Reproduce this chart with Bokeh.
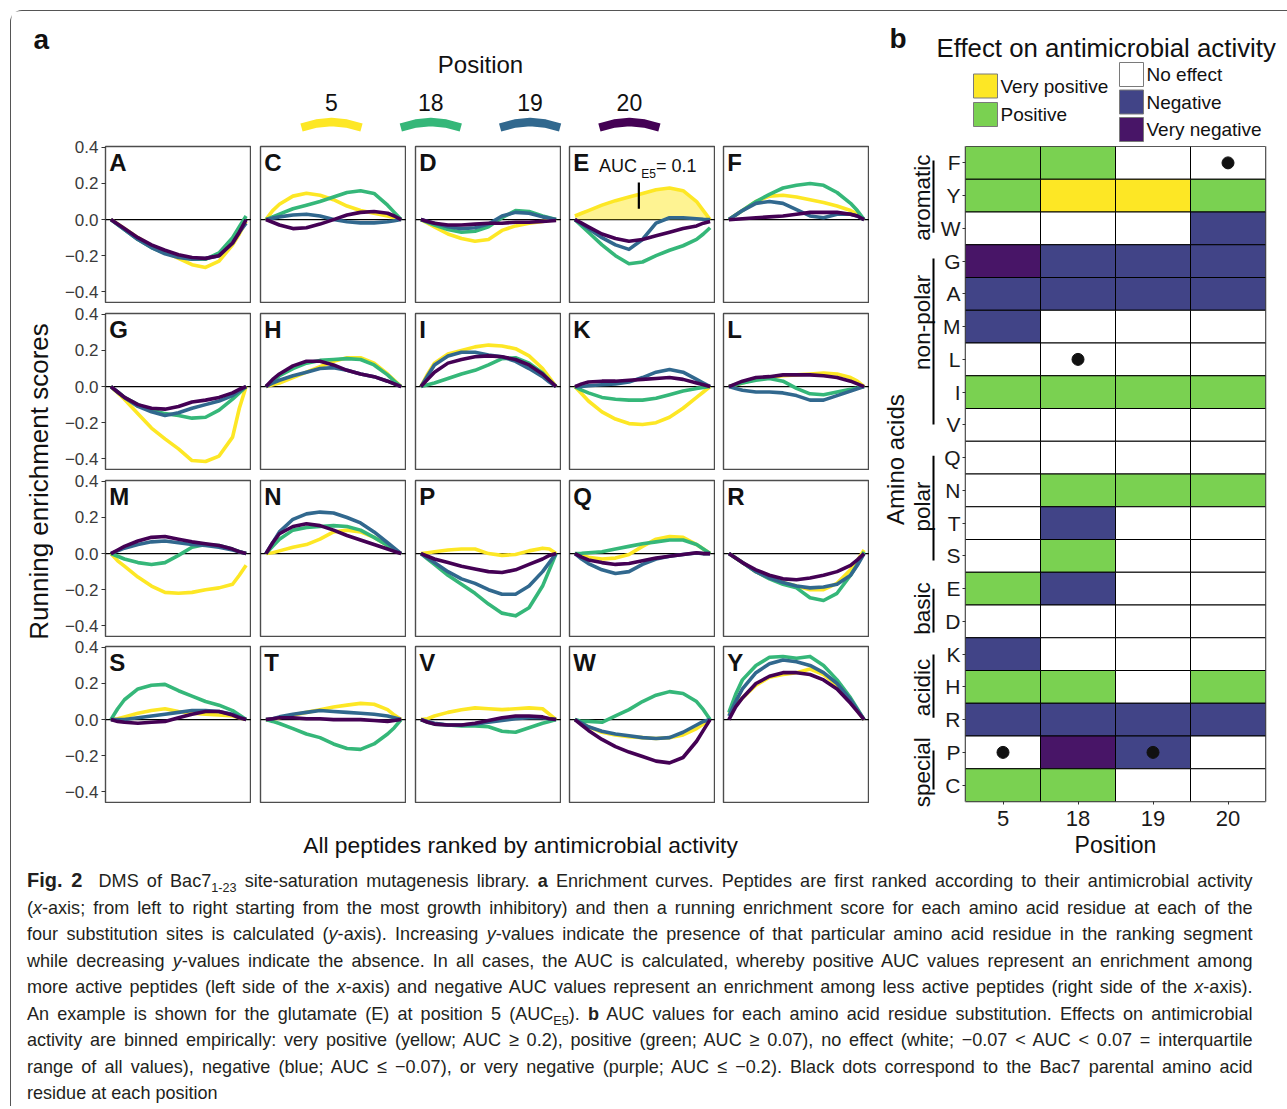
import math
from bokeh.plotting import figure
from bokeh.layouts import row, column
from bokeh.models import Range1d, Label, FixedTicker, Div, Span, ColumnDataSource
from bokeh.embed import file_html
from bokeh.resources import INLINE
from bokeh.core.properties import value

# ------------------------------------------------------------------ data
XS = [0, 0.05, 0.1, 0.2, 0.3, 0.4, 0.5, 0.6, 0.7, 0.8, 0.9, 0.95, 1.0]
POSITIONS = ["5", "18", "19", "20"]
PANEL_LETTERS = ["A", "C", "D", "E", "F",
                 "G", "H", "I", "K", "L",
                 "M", "N", "P", "Q", "R",
                 "S", "T", "V", "W", "Y"]

A5 = [0, -0.025, -0.05, -0.10, -0.145, -0.18, -0.215, -0.25, -0.265, -0.23, -0.14, -0.08, -0.01]
A18 = [0, -0.028, -0.055, -0.11, -0.155, -0.185, -0.205, -0.22, -0.22, -0.185, -0.10, -0.04, 0.02]
A19 = [0, -0.028, -0.055, -0.11, -0.155, -0.19, -0.21, -0.22, -0.215, -0.20, -0.13, -0.07, -0.02]
A20 = [0, -0.025, -0.05, -0.10, -0.14, -0.17, -0.195, -0.21, -0.215, -0.20, -0.13, -0.07, 0.0]

C5 = [0, 0.05, 0.085, 0.13, 0.146, 0.135, 0.11, 0.075, 0.05, 0.035, 0.02, 0.01, 0]
C18 = [0, 0.015, 0.03, 0.06, 0.08, 0.10, 0.125, 0.15, 0.16, 0.145, 0.08, 0.04, 0]
C19 = [0, 0.008, 0.015, 0.025, 0.03, 0.02, 0.0, -0.012, -0.018, -0.018, -0.012, -0.006, 0]
C20 = [0, -0.015, -0.03, -0.05, -0.045, -0.025, 0.0, 0.025, 0.04, 0.045, 0.035, 0.02, 0]

D5 = [0, -0.02, -0.04, -0.08, -0.105, -0.12, -0.11, -0.06, -0.035, -0.02, -0.01, -0.005, 0]
D18 = [0, -0.015, -0.03, -0.055, -0.07, -0.065, -0.04, 0.01, 0.05, 0.045, 0.02, 0.01, 0]
D19 = [0, -0.01, -0.02, -0.04, -0.05, -0.045, -0.025, 0.02, 0.04, 0.035, 0.015, 0.008, 0]
D20 = [0, -0.01, -0.02, -0.03, -0.03, -0.025, -0.02, -0.02, -0.015, -0.015, -0.01, -0.008, -0.005]

E5 = [0.02, 0.035, 0.05, 0.08, 0.105, 0.125, 0.145, 0.165, 0.175, 0.16, 0.10, 0.05, 0.0]
E18 = [0, -0.035, -0.07, -0.14, -0.20, -0.245, -0.235, -0.20, -0.17, -0.145, -0.11, -0.08, -0.045]
E19 = [0, -0.025, -0.05, -0.10, -0.14, -0.165, -0.11, -0.02, 0.01, 0.01, 0.005, 0.002, 0]
E20 = [0, -0.02, -0.04, -0.08, -0.105, -0.12, -0.11, -0.09, -0.07, -0.05, -0.035, -0.02, -0.01]

F5 = [0, 0.025, 0.05, 0.10, 0.13, 0.135, 0.125, 0.11, 0.095, 0.075, 0.05, 0.03, 0]
F18 = [0, 0.025, 0.05, 0.10, 0.14, 0.175, 0.19, 0.20, 0.19, 0.15, 0.09, 0.05, 0]
F19 = [0, 0.025, 0.05, 0.09, 0.10, 0.09, 0.055, 0.02, 0.01, 0.03, 0.03, 0.02, 0]
F20 = [0, 0.002, 0.005, 0.01, 0.015, 0.02, 0.03, 0.04, 0.04, 0.04, 0.03, 0.02, 0]

G5 = [0, -0.035, -0.07, -0.15, -0.23, -0.29, -0.345, -0.41, -0.415, -0.385, -0.28, -0.12, 0]
G18 = [0, -0.03, -0.06, -0.10, -0.13, -0.15, -0.16, -0.175, -0.17, -0.13, -0.07, -0.035, 0]
G19 = [0, -0.03, -0.06, -0.11, -0.14, -0.16, -0.145, -0.12, -0.10, -0.08, -0.05, -0.025, 0]
G20 = [0, -0.03, -0.06, -0.10, -0.12, -0.125, -0.11, -0.085, -0.075, -0.06, -0.035, -0.015, 0]

H5 = [0, 0.01, 0.02, 0.05, 0.08, 0.11, 0.14, 0.16, 0.16, 0.13, 0.07, 0.035, 0]
H18 = [0, 0.03, 0.06, 0.10, 0.13, 0.145, 0.15, 0.155, 0.15, 0.12, 0.065, 0.03, 0]
H19 = [0, 0.02, 0.035, 0.06, 0.08, 0.10, 0.105, 0.09, 0.07, 0.055, 0.03, 0.015, 0]
H20 = [0, 0.04, 0.07, 0.115, 0.14, 0.14, 0.12, 0.09, 0.07, 0.055, 0.03, 0.015, 0]

I5 = [0, 0.07, 0.13, 0.18, 0.20, 0.22, 0.23, 0.225, 0.21, 0.17, 0.10, 0.05, 0]
I18 = [0, 0.01, 0.02, 0.045, 0.07, 0.09, 0.12, 0.155, 0.16, 0.13, 0.075, 0.035, 0]
I19 = [0, 0.06, 0.12, 0.17, 0.19, 0.19, 0.175, 0.165, 0.14, 0.10, 0.055, 0.025, 0]
I20 = [0, 0.04, 0.08, 0.13, 0.15, 0.165, 0.17, 0.165, 0.15, 0.12, 0.07, 0.035, 0]

K5 = [0, -0.04, -0.08, -0.14, -0.18, -0.205, -0.21, -0.20, -0.17, -0.12, -0.06, -0.03, 0]
K18 = [0, -0.02, -0.035, -0.06, -0.07, -0.075, -0.075, -0.065, -0.045, -0.025, -0.01, -0.005, 0]
K19 = [0, 0.0, 0.005, 0.01, 0.015, 0.025, 0.05, 0.08, 0.095, 0.08, 0.04, 0.02, 0]
K20 = [0, 0.015, 0.025, 0.03, 0.03, 0.035, 0.04, 0.045, 0.05, 0.04, 0.02, 0.01, 0]

L5 = [0, 0.01, 0.02, 0.04, 0.05, 0.06, 0.065, 0.07, 0.075, 0.07, 0.05, 0.03, 0]
L18 = [0, 0.01, 0.02, 0.035, 0.045, 0.03, -0.01, -0.04, -0.045, -0.03, -0.015, -0.008, 0]
L19 = [0, -0.01, -0.02, -0.03, -0.03, -0.035, -0.05, -0.075, -0.075, -0.05, -0.025, -0.012, 0]
L20 = [0, 0.015, 0.03, 0.05, 0.055, 0.065, 0.065, 0.065, 0.06, 0.05, 0.03, 0.015, 0]

M5 = [0, -0.04, -0.07, -0.13, -0.18, -0.215, -0.22, -0.215, -0.20, -0.19, -0.17, -0.12, -0.065]
M18 = [0, -0.015, -0.03, -0.05, -0.06, -0.05, -0.01, 0.035, 0.05, 0.045, 0.025, 0.01, 0]
M19 = [0, 0.015, 0.03, 0.05, 0.065, 0.07, 0.06, 0.05, 0.045, 0.035, 0.02, 0.01, 0]
M20 = [0, 0.02, 0.04, 0.07, 0.09, 0.095, 0.08, 0.065, 0.055, 0.045, 0.025, 0.01, 0]

N5 = [0, 0.005, 0.015, 0.035, 0.05, 0.08, 0.12, 0.13, 0.12, 0.09, 0.045, 0.02, 0]
N18 = [0, 0.04, 0.08, 0.13, 0.145, 0.15, 0.155, 0.15, 0.13, 0.09, 0.045, 0.02, 0]
N19 = [0, 0.06, 0.12, 0.19, 0.22, 0.23, 0.225, 0.20, 0.17, 0.12, 0.06, 0.03, 0]
N20 = [0, 0.06, 0.11, 0.15, 0.165, 0.155, 0.13, 0.10, 0.075, 0.05, 0.025, 0.012, 0]

P5 = [0, 0.005, 0.01, 0.02, 0.025, 0.025, 0.0, -0.01, -0.005, 0.015, 0.03, 0.025, 0]
P18 = [0, -0.03, -0.06, -0.12, -0.17, -0.22, -0.28, -0.33, -0.345, -0.30, -0.18, -0.09, 0]
P19 = [0, -0.025, -0.05, -0.10, -0.14, -0.165, -0.20, -0.225, -0.225, -0.18, -0.10, -0.05, 0]
P20 = [0, -0.015, -0.03, -0.05, -0.07, -0.085, -0.10, -0.105, -0.09, -0.06, -0.03, -0.01, 0]

Q5 = [0, -0.01, -0.02, -0.03, -0.025, -0.005, 0.04, 0.08, 0.095, 0.09, 0.05, 0.025, 0]
Q18 = [0, 0.002, 0.005, 0.01, 0.025, 0.04, 0.055, 0.065, 0.075, 0.075, 0.05, 0.025, 0]
Q19 = [0, -0.03, -0.055, -0.09, -0.11, -0.10, -0.06, -0.03, -0.015, -0.005, 0.003, 0.0, 0]
Q20 = [0, -0.02, -0.035, -0.05, -0.06, -0.055, -0.04, -0.025, -0.015, -0.005, 0.005, 0.0, 0]

R5 = [0, -0.025, -0.05, -0.10, -0.135, -0.16, -0.18, -0.20, -0.20, -0.165, -0.09, -0.04, 0.02]
R18 = [0, -0.025, -0.05, -0.10, -0.14, -0.17, -0.19, -0.245, -0.26, -0.22, -0.12, -0.06, 0.01]
R19 = [0, -0.025, -0.05, -0.10, -0.135, -0.16, -0.18, -0.19, -0.185, -0.17, -0.12, -0.065, 0]
R20 = [0, -0.025, -0.05, -0.09, -0.12, -0.14, -0.145, -0.135, -0.12, -0.10, -0.065, -0.035, 0]

S5 = [0, 0.005, 0.015, 0.035, 0.05, 0.06, 0.045, 0.035, 0.03, 0.025, 0.02, 0.01, 0]
S18 = [0, 0.06, 0.11, 0.17, 0.19, 0.195, 0.16, 0.13, 0.10, 0.08, 0.05, 0.025, 0]
S19 = [0, 0.0, 0.0, 0.01, 0.02, 0.03, 0.04, 0.05, 0.05, 0.045, 0.03, 0.015, 0]
S20 = [0, -0.01, -0.015, -0.02, -0.015, -0.01, 0.01, 0.03, 0.045, 0.045, 0.025, 0.01, 0]

T5 = [0, 0.0, 0.01, 0.025, 0.04, 0.055, 0.07, 0.08, 0.09, 0.085, 0.055, 0.025, 0]
T18 = [0, -0.01, -0.022, -0.05, -0.08, -0.10, -0.135, -0.16, -0.165, -0.135, -0.08, -0.045, 0]
T19 = [0, 0.005, 0.015, 0.03, 0.04, 0.05, 0.045, 0.04, 0.035, 0.03, 0.02, 0.01, 0]
T20 = [0, 0.005, 0.01, 0.01, 0.005, 0.005, 0.0, 0.0, 0.0, -0.005, -0.01, -0.005, 0]

V5 = [0, 0.005, 0.02, 0.04, 0.055, 0.065, 0.06, 0.055, 0.06, 0.065, 0.06, 0.03, 0]
V18 = [0, -0.015, -0.025, -0.03, -0.035, -0.035, -0.04, -0.065, -0.07, -0.045, -0.02, -0.01, 0]
V19 = [0, -0.01, -0.02, -0.03, -0.03, -0.025, -0.015, -0.005, 0.005, 0.01, 0.01, 0.005, 0]
V20 = [0, -0.015, -0.025, -0.03, -0.03, -0.02, -0.005, 0.01, 0.02, 0.02, 0.015, 0.005, 0]

W5 = [0, -0.02, -0.04, -0.07, -0.085, -0.095, -0.10, -0.105, -0.10, -0.085, -0.05, -0.025, 0]
W18 = [0, -0.01, -0.01, -0.015, 0.02, 0.055, 0.10, 0.135, 0.155, 0.145, 0.10, 0.055, 0]
W19 = [0, -0.02, -0.04, -0.065, -0.08, -0.09, -0.10, -0.105, -0.10, -0.07, -0.03, -0.01, 0]
W20 = [0, -0.03, -0.06, -0.11, -0.15, -0.18, -0.205, -0.23, -0.24, -0.21, -0.12, -0.06, 0]

Y5 = [0.03, 0.08, 0.12, 0.19, 0.235, 0.25, 0.26, 0.28, 0.25, 0.19, 0.10, 0.05, 0]
Y18 = [0.04, 0.14, 0.22, 0.30, 0.345, 0.35, 0.34, 0.35, 0.30, 0.22, 0.12, 0.06, 0]
Y19 = [0.02, 0.10, 0.17, 0.26, 0.31, 0.33, 0.32, 0.30, 0.26, 0.20, 0.11, 0.055, 0]
Y20 = [0.0, 0.07, 0.12, 0.20, 0.24, 0.26, 0.26, 0.25, 0.22, 0.17, 0.09, 0.045, 0]

CURVES = {
    "A": [A5, A18, A19, A20], "C": [C5, C18, C19, C20], "D": [D5, D18, D19, D20],
    "E": [E5, E18, E19, E20], "F": [F5, F18, F19, F20], "G": [G5, G18, G19, G20],
    "H": [H5, H18, H19, H20], "I": [I5, I18, I19, I20], "K": [K5, K18, K19, K20],
    "L": [L5, L18, L19, L20], "M": [M5, M18, M19, M20], "N": [N5, N18, N19, N20],
    "P": [P5, P18, P19, P20], "Q": [Q5, Q18, Q19, Q20], "R": [R5, R18, R19, R20],
    "S": [S5, S18, S19, S20], "T": [T5, T18, T19, T20], "V": [V5, V18, V19, V20],
    "W": [W5, W18, W19, W20], "Y": [Y5, Y18, Y19, Y20],
}

YTICKS = [-0.4, -0.2, 0.0, 0.2, 0.4]
YTICK_LABELS = ["\u22120.4", "\u22120.2", "0.0", "0.2", "0.4"]
AUC_E5 = 0.1

AMINO_ACIDS = ["F", "Y", "W", "G", "A", "M", "L", "I", "V", "Q",
               "N", "T", "S", "E", "D", "K", "H", "R", "P", "C"]
# effect codes: VP very positive, P positive, 0 no effect, N negative, VN very negative
EFFECT_5 = ["P", "P", "0", "VN", "N", "N", "0", "P", "0", "0",
            "0", "0", "0", "P", "0", "N", "P", "N", "0", "P"]
EFFECT_18 = ["P", "VP", "0", "N", "N", "0", "0", "P", "0", "0",
             "P", "N", "P", "N", "0", "0", "P", "N", "VN", "P"]
EFFECT_19 = ["0", "VP", "0", "N", "N", "0", "0", "P", "0", "0",
             "P", "0", "0", "0", "0", "0", "0", "N", "N", "0"]
EFFECT_20 = ["0", "P", "N", "N", "N", "0", "0", "P", "0", "0",
             "P", "0", "0", "0", "0", "0", "P", "N", "0", "0"]
PARENTAL = ["P", "L", "P", "F"]   # Bac7 residue at positions 5, 18, 19, 20

EFFECT_CODES = ["VP", "P", "0", "N", "VN"]
EFFECT_LEVELS = ["Very positive", "Positive", "No effect", "Negative", "Very negative"]
GROUP_NAMES = ["aromatic", "non-polar", "polar", "basic", "acidic", "special"]

CAPTION_LINES = [
    "<b style=\"font-size:21px\">Fig. 2</b>&nbsp; DMS of Bac7<sub>1-23</sub> site-saturation mutagenesis library. <b>a</b> Enrichment curves. Peptides are first ranked according to their antimicrobial activity",
    "(<i>x</i>-axis; from left to right starting from the most growth inhibitory) and then a running enrichment score for each amino acid residue at each of the",
    "four substitution sites is calculated (<i>y</i>-axis). Increasing <i>y</i>-values indicate the presence of that particular amino acid residue in the ranking segment",
    "while decreasing <i>y</i>-values indicate the absence. In all cases, the AUC is calculated, whereby positive AUC values represent an enrichment among",
    "more active peptides (left side of the <i>x</i>-axis) and negative AUC values represent an enrichment among less active peptides (right side of the <i>x</i>-axis).",
    "An example is shown for the glutamate (E) at position 5 (AUC<sub>E5</sub>). <b>b</b> AUC values for each amino acid residue substitution. Effects on antimicrobial",
    "activity are binned empirically: very positive (yellow; AUC \u2265 0.2), positive (green; AUC \u2265 0.07), no effect (white; \u22120.07 &lt; AUC &lt; 0.07 = interquartile",
    "range of all values), negative (blue; AUC \u2264 \u22120.07), or very negative (purple; AUC \u2264 \u22120.2). Black dots correspond to the Bac7 parental amino acid",
    "residue at each position",
]

# ------------------------------------------------------------------ styles / layout
FONT = "Liberation Sans"
POS_COLORS = ["#FDE725", "#35B779", "#31688E", "#440154"]
EFFECT_COLORS = ["#FDE725", "#7AD151", "#FFFFFF", "#414487", "#481567"]
O = 11                      # page offset of the content (margin + frame border)
FW, FH = 146, 157
COL_LEFT = [52, 9, 9, 8, 8]
ROW_TOP = [10, 10, 10, 9]
HEAD_H = 146 - O - ROW_TOP[0]
XR = (-0.04, 1.04)
YR = (-0.465, 0.405)


def base_fig(**kw):
    return figure(tools="", toolbar_location=None, output_backend="svg", frame_align=False, **kw)


def pixel_fig(w, h, x0, y0):
    p = base_fig(width=w, height=h, x_range=Range1d(x0, x0 + w), y_range=Range1d(y0 + h, y0),
                 x_axis_type=None, y_axis_type=None, min_border=0)
    p.outline_line_color = None
    return p


def lab(x, y, text, size, **kw):
    kw.setdefault("text_baseline", "middle")
    kw.setdefault("text_color", "#111111")
    return Label(x=x, y=y, text=text, text_font=FONT, text_font_size=size, **kw)


def small_panel(letter, ci, ri):
    p = base_fig(width=COL_LEFT[ci] + FW, height=ROW_TOP[ri] + FH,
                 x_range=Range1d(*XR), y_range=Range1d(*YR),
                 x_axis_type=None, y_axis_type=("linear" if ci == 0 else None),
                 min_border_left=COL_LEFT[ci], min_border_right=0,
                 min_border_top=ROW_TOP[ri], min_border_bottom=0)
    p.outline_line_color = "#4d4d4d"
    p.outline_line_width = 1.4
    for g in p.grid:
        g.visible = False
    if ci == 0:
        ax = p.yaxis[0]
        ax.ticker = FixedTicker(ticks=YTICKS, minor_ticks=[])
        ax.major_label_overrides = {t: s for t, s in zip(YTICKS, YTICK_LABELS)}
        ax.axis_line_color = None
        ax.major_tick_out = 4
        ax.major_tick_in = 0
        ax.minor_tick_out = 0
        ax.minor_tick_in = 0
        ax.major_tick_line_color = "#333333"
        ax.major_label_text_font = FONT
        ax.major_label_text_font_size = "17px"
        ax.major_label_text_color = "#3a3a3a"
        ax.major_label_standoff = 3
    p.add_layout(Span(location=0, dimension="width", line_color="black", line_width=1.3, level="underlay"))
    ys = CURVES[letter]
    if letter == "E":
        p.varea(x=XS, y1=0, y2=ys[0], fill_color=POS_COLORS[0], fill_alpha=0.5)
    for color, y in zip(POS_COLORS, ys):
        p.line(XS, y, line_color=color, line_width=3.6, line_join="round")
    p.add_layout(lab(-0.012, 0.39, letter, "24px", text_font_style="bold", text_baseline="top"))
    if letter == "E":
        p.segment(x0=0.473, y0=0.06, x1=0.473, y1=0.205, line_color="black", line_width=2.2)
        p.add_layout(lab(0.178, 0.295, "AUC", "18px"))
        p.add_layout(lab(0.49, 0.25, "E5", "12px"))
        p.add_layout(lab(0.6, 0.295, "= %g" % AUC_E5, "18px"))
    return p


# ---------------- panel a
header_a = pixel_fig(869 - O, HEAD_H, O, O)
header_a.add_layout(lab(33, 38.5, "a", "28px", text_font_style="bold"))
header_a.add_layout(lab(480, 63.5, "Position", "24px", text_align="center"))
KEY_DX = [-30, -15, 0, 15, 30]
KEY_DY = [127, 123, 121.5, 123, 127]
for i, (pos, col) in enumerate(zip(POSITIONS, POS_COLORS)):
    cx = 331 + 99.3 * i
    header_a.add_layout(lab(cx, 102, pos, "23px", text_align="center"))
    header_a.line([cx + d for d in KEY_DX], KEY_DY, line_color=col, line_width=8.5)

ylab = pixel_fig(53 - O, 657 + ROW_TOP[0], O, 146 - ROW_TOP[0])
ylab.add_layout(lab(38, 481, "Running enrichment scores", "26px", angle=math.pi / 2, text_align="center"))

grid_rows = []
for ri in range(4):
    grid_rows.append(row([small_panel(PANEL_LETTERS[ri * 5 + ci], ci, ri) for ci in range(5)]))

xlab = pixel_fig(869 - O, 63, O, 803)
xlab.add_layout(lab(520, 844.5, "All peptides ranked by antimicrobial activity", "22.8px", text_align="center"))

panel_a = column([header_a, row([ylab, column(grid_rows)]), xlab])

# ---------------- panel b
legend_b = pixel_fig(410, 146 - O, 869, O)
legend_b.add_layout(lab(889, 37.5, "b", "28px", text_font_style="bold"))
legend_b.add_layout(lab(936, 47.5, "Effect on antimicrobial activity", "25.8px"))
LEG_B_X = [985, 985, 1131, 1131, 1131]
LEG_B_Y = [85.5, 114, 74, 101.5, 129]
leg_src = ColumnDataSource(dict(x=LEG_B_X, y=LEG_B_Y, tx=[x + 15 for x in LEG_B_X],
                                color=EFFECT_COLORS, label=EFFECT_LEVELS))
legend_b.rect(x="x", y="y", width=24, height=24, fill_color="color", line_color="#7a7a7a",
              line_width=1, source=leg_src)
legend_b.text(x="tx", y="y", text="label", text_baseline="middle", text_font=value(FONT),
              text_font_size="19px", text_color="#111111", source=leg_src)

n_aa = len(AMINO_ACIDS)
ROW_PX = (801 - 146) / n_aa

# amino-acid group annotations (left strip)
groups = base_fig(width=937 - 869, height=717, x_range=Range1d(869, 937),
                  y_range=Range1d(n_aa - 717 / ROW_PX, n_aa),
                  x_axis_type=None, y_axis_type=None, min_border=0)
groups.outline_line_color = None
GROUP_LABEL_Y = [18.44, 14.63, 9.01, 5.89, 3.48, 0.89]
GROUP_LINE_Y0 = [19.57, 16.58, 10.56, 6.50, 4.49, 1.56]
GROUP_LINE_Y1 = [17.37, 11.51, 7.36, 5.16, 2.56, 0.37]
groups.text(x=[922] * len(GROUP_NAMES), y=GROUP_LABEL_Y, text=GROUP_NAMES, angle=math.pi / 2,
            text_align="center", text_baseline="middle", text_font=value(FONT),
            text_font_size="22.5px", text_color="#111111")
groups.segment(x0=[933] * len(GROUP_NAMES), y0=GROUP_LINE_Y0, x1=[933] * len(GROUP_NAMES),
               y1=GROUP_LINE_Y1, line_color="black", line_width=2)
groups.add_layout(lab(895, 10.44, "Amino acids", "24px", angle=math.pi / 2, text_align="center"))

code_to_color = dict(zip(EFFECT_CODES, EFFECT_COLORS))
cx, cy, cc = [], [], []
for j, col_eff in enumerate([EFFECT_5, EFFECT_18, EFFECT_19, EFFECT_20]):
    for i, code in enumerate(col_eff):
        cx.append(j + 0.5)
        cy.append(n_aa - i - 0.5)
        cc.append(code_to_color[code])
dot_x = [j + 0.5 for j in range(len(POSITIONS))]
dot_y = [n_aa - AMINO_ACIDS.index(aa) - 0.5 for aa in PARENTAL]

heat = base_fig(width=1279 - 937, height=717, x_range=Range1d(0, len(POSITIONS)), y_range=Range1d(0, n_aa),
                min_border_left=965 - 937, min_border_right=14, min_border_top=0, min_border_bottom=62)
heat.outline_line_color = "#999999"
heat.outline_line_width = 2
for g in heat.grid:
    g.visible = False
heat.rect(x=cx, y=cy, width=1, height=1, fill_color=cc, line_color="black", line_width=1)
heat.scatter(x=dot_x, y=dot_y, size=12, color="#111111")

xa = heat.xaxis[0]
xa.ticker = FixedTicker(ticks=dot_x, minor_ticks=[])
xa.major_label_overrides = {t: s for t, s in zip(dot_x, POSITIONS)}
xa.axis_label = "Position"
ya = heat.yaxis[0]
yt = [n_aa - i - 0.5 for i in range(n_aa)]
ya.ticker = FixedTicker(ticks=yt, minor_ticks=[])
ya.major_label_overrides = {t: aa for t, aa in zip(yt, AMINO_ACIDS)}
for ax in (xa, ya):
    ax.axis_line_color = None
    ax.major_tick_out = 3
    ax.major_tick_in = 0
    ax.minor_tick_out = 0
    ax.minor_tick_in = 0
    ax.major_tick_line_color = "#333333"
    ax.major_label_text_font = FONT
    ax.major_label_text_color = "#1a1a1a"
    ax.major_label_standoff = 2
xa.major_label_standoff = 6
xa.major_label_text_font_size = "22px"
ya.major_label_text_font_size = "21px"
xa.axis_label_text_font = FONT
xa.axis_label_text_font_size = "23px"
xa.axis_label_text_font_style = "normal"
xa.axis_label_text_color = "#111111"
xa.axis_label_standoff = 3

panel_b = column([legend_b, row([groups, heat])])

# ---------------- caption
line_divs = []
for k, ln in enumerate(CAPTION_LINES):
    align = "left" if k == len(CAPTION_LINES) - 1 else "justify"
    line_divs.append('<div style="white-space:nowrap;text-align:%s;text-align-last:%s;">%s</div>' % (align, align, ln))
caption_html = (
    '<div style="padding:1px 0 0 16px;font-family:\'Liberation Sans\',Arial,sans-serif;'
    'font-size:19px;color:#231f20;line-height:26.5px;">'
    '<div style="width:1290px;transform:scaleX(0.95);transform-origin:0 0;">'
    + "".join(line_divs).replace("<sub>", '<sub style="font-size:70%;line-height:0;">') +
    '</div></div>'
)
caption = Div(text=caption_html, width=1287 - O, height=240, margin=0, styles={"overflow": "hidden"})

root = column([row([panel_a, panel_b]), caption],
              styles={"margin-left": "10px", "margin-top": "10px",
                      "border-left": "1px solid #555555", "border-top": "1px solid #555555",
                      "border-top-left-radius": "12px"})

open("out.html", "w").write(file_html(root, INLINE))
